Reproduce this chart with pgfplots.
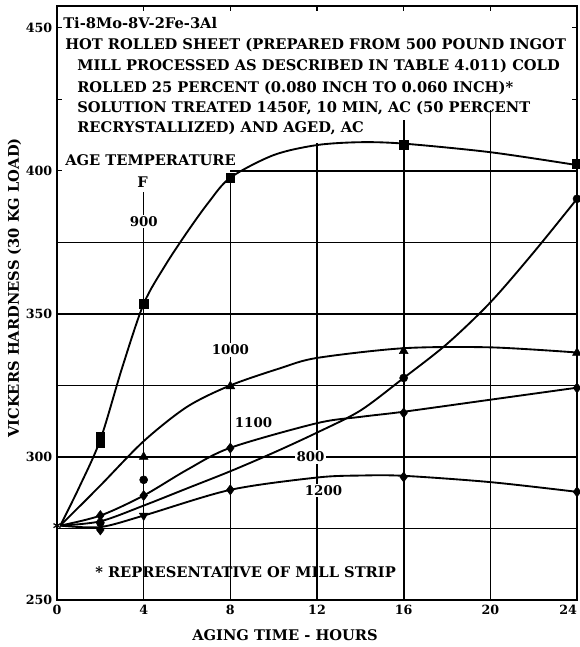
\documentclass[border=0pt]{standalone}
\usepackage{fontspec}
\setmainfont{DejaVu Serif}
\usepackage{pgfplots}
\pgfplotsset{compat=1.18}
\begin{document}
\begin{tikzpicture}[x=1pt,y=1pt]
\useasboundingbox (-42.75,-35.25) rectangle (392.25,450);
\begin{axis}[
 at={(0,0)}, anchor=south west,
 scale only axis, width=390pt, height=445.5pt,
 xmin=0, xmax=24, ymin=250, ymax=457.6,
 xtick={0,4,...,24}, xticklabels={0,4,8,12,16,20,\makebox[0pt][r]{24}},
 ytick={250,275,...,450},
 yticklabels={250,,300,,350,,400,,450},
 tick align=inside, major tick length=4pt,
 every tick/.style={black, line width=1pt},
 axis line style={line width=1.7pt},
 ticklabel style={font=\bfseries\fontsize{9.5}{12}\selectfont},
 /pgf/number format/assume math mode=true,
 clip=false,
]
% grid lines
\begin{scope}[line width=1.25pt]
\draw (axis cs:4,250) -- (axis cs:4,392.7);
\draw (axis cs:8,250) -- (axis cs:8,397.6);
\draw (axis cs:12,250) -- (axis cs:12,409.8);
\draw (axis cs:16,250) -- (axis cs:16,417.8);
\draw (axis cs:20,250) -- (axis cs:20,421.3);
\draw (axis cs:0,275) -- (axis cs:24,275);
\draw (axis cs:0,300) -- (axis cs:24,300);
\draw (axis cs:0,325) -- (axis cs:24,325);
\draw (axis cs:0,350) -- (axis cs:24,350);
\draw (axis cs:0,375) -- (axis cs:24,375);
\draw (axis cs:8,400) -- (axis cs:24,400);
\end{scope}

% curves (900, 1000, 1100, 800, 1200 F)
\addplot[smooth, black, line width=1.4pt] coordinates {
 (0.15,276) (1,289) (2,306) (3,331) (4,353.5) (5,367) (6,378.5) (7,389)
 (8,397.6) (10,405.5) (12,409) (14,410) (16,409.5) (20,406.5) (24,402)};
\addplot[smooth, black, line width=1.4pt] coordinates {
 (0.15,276) (2,290) (4,305.5) (6,317.5) (8,325) (10.3,331) (12,334.6)
 (16,338) (20,338.3) (24,336.5)};
\addplot[smooth, black, line width=1.4pt] coordinates {
 (0.15,276) (2,279.5) (4,286.5) (6,295.5) (8,303.2) (12,311.8) (14,314)
 (16,315.8) (20,320) (24,324.2)};
\addplot[smooth, black, line width=1.4pt] coordinates {
 (0.15,276) (2,277.5) (4,283) (6,289) (8,295) (10,301.5) (12,308.5)
 (14,316.2) (16,327.6) (18,339.5) (20,354) (22,371.5) (24,390.2)};
\addplot[smooth, black, line width=1.4pt] coordinates {
 (0.15,276) (2,275.5) (4,279.5) (8,288.5) (12,292.8) (14,293.5) (16,293.4)
 (20,291.2) (24,287.8)};

% data marks
\addplot[only marks, mark=square*, mark size=3.3pt, black] coordinates {
 (2,307) (2,304.9) (4,353.5) (8,397.6) (16,409.1) (24,402.4)};
\addplot[only marks, mark=triangle*, mark size=3.8pt, black] coordinates {
 (4,300) (8,324.7) (16,337) (24,336.4)};
\addplot[only marks, mark=diamond*, mark size=3.8pt, black] coordinates {
 (2,279.5) (4,286.5) (8,303.1) (16,315.4) (24,324.1)};
\addplot[only marks, mark=*, mark size=3pt, black] coordinates {
 (2,277) (4,292) (16,327.6) (24,390.2)};
\addplot[only marks, mark=diamond*, mark size=3.8pt, black] coordinates {
 (2,274.5) (8,288.5) (16,293) (24,287.8)};
\addplot[only marks, mark=triangle*, mark options={rotate=180}, mark size=3.8pt, black] coordinates {
 (4,279.5)};
\addplot[only marks, mark=asterisk, mark size=3pt, black, line width=0.9pt] coordinates {
 (0,276)};

% curve labels
\begin{scope}[every node/.style={font=\bfseries\fontsize{10}{12}\selectfont, fill=white, inner sep=1.2pt}]
\node at (axis cs:4,382.2) {900};
\node at (axis cs:8,337.4) {1000};
\node at (axis cs:9.07,311.9) {1100};
\node at (axis cs:11.7,300) {800};
\node at (axis cs:12.3,288.3) {1200};
\end{scope}
\end{axis}
% text block (pt coordinates relative to axis box corner; 0.75pt per px)
\begin{scope}[every node/.style={font=\bfseries\fontsize{11}{13}\selectfont, anchor=base west, inner sep=0pt}]
\node at (4.5,428.25) {Ti-8Mo-8V-2Fe-3Al};
\node at (6,412.5) {HOT ROLLED SHEET (PREPARED FROM 500 POUND INGOT};
\node at (15,396.75) {MILL PROCESSED AS DESCRIBED IN TABLE 4.011) COLD};
\node at (15,380.25) {ROLLED 25 PERCENT (0.080 INCH TO 0.060 INCH)*};
\node at (15,365.25) {SOLUTION TREATED 1450F, 10 MIN, AC (50 PERCENT};
\node at (15,350.25) {RECRYSTALLIZED) AND AGED, AC};
\node at (6,325.5) {AGE TEMPERATURE};
\node at (60,309) {F};
\node at (28.5,17.25) {* REPRESENTATIVE OF MILL STRIP};
\end{scope}
\node[rotate=90, font=\bfseries\fontsize{11}{13}\selectfont] at (-32,234) {VICKERS HARDNESS (30 KG LOAD)};
\node[anchor=base, font=\bfseries\fontsize{11}{13}\selectfont] at (171,-30) {AGING TIME - HOURS};
\end{tikzpicture}
\end{document}
